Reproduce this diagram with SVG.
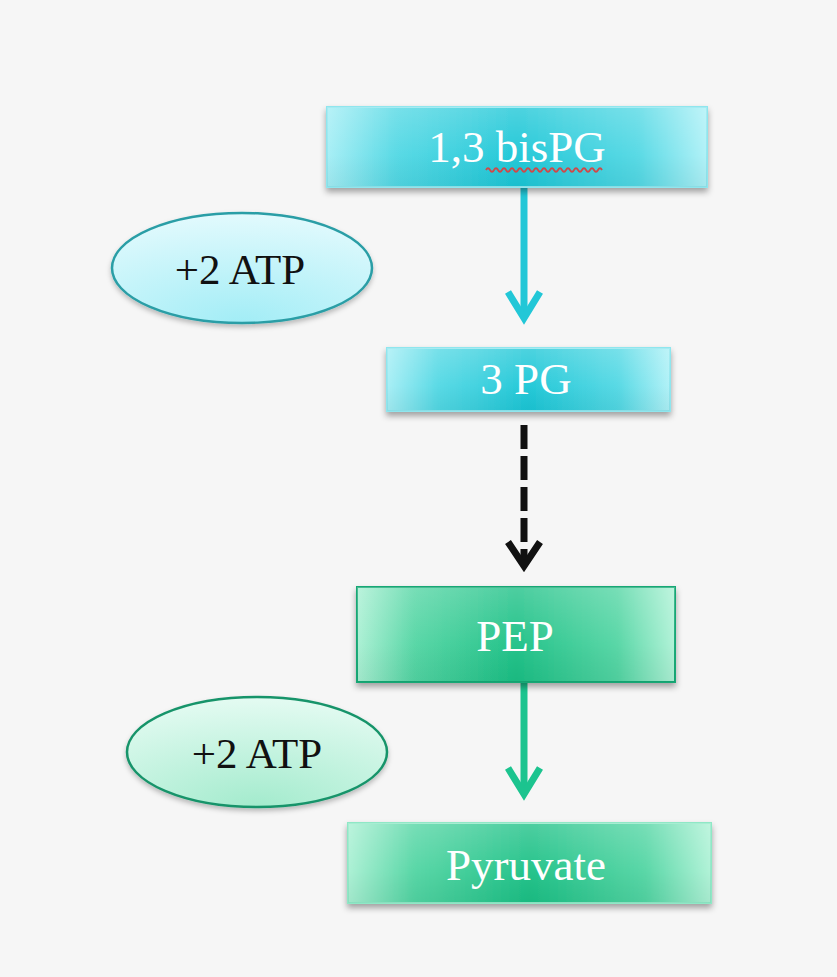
<svg xmlns="http://www.w3.org/2000/svg" width="837" height="977" viewBox="0 0 837 977">
<defs>
<linearGradient id="gc" x1="0" y1="0" x2="1" y2="0">
<stop offset="0" stop-color="#a4eef5"/>
<stop offset="0.18" stop-color="#52d8e4"/>
<stop offset="0.5" stop-color="#1bc6d6"/>
<stop offset="0.82" stop-color="#52d8e4"/>
<stop offset="1" stop-color="#aef1f7"/>
</linearGradient>
<linearGradient id="gg" x1="0" y1="0" x2="1" y2="0">
<stop offset="0" stop-color="#a9f0d3"/>
<stop offset="0.18" stop-color="#52d5a3"/>
<stop offset="0.5" stop-color="#1bc085"/>
<stop offset="0.82" stop-color="#52d5a3"/>
<stop offset="1" stop-color="#aef2d6"/>
</linearGradient>
<linearGradient id="ov" x1="0" y1="0" x2="0" y2="1">
<stop offset="0" stop-color="#ffffff" stop-opacity="0.22"/>
<stop offset="0.6" stop-color="#ffffff" stop-opacity="0.05"/>
<stop offset="1" stop-color="#000000" stop-opacity="0.04"/>
</linearGradient>
<radialGradient id="ec" cx="0.5" cy="1" r="1" fx="0.5" fy="1">
<stop offset="0" stop-color="#a2edf6"/>
<stop offset="1" stop-color="#e2fafd"/>
</radialGradient>
<radialGradient id="eg" cx="0.5" cy="1" r="1" fx="0.5" fy="1">
<stop offset="0" stop-color="#a3ebcd"/>
<stop offset="1" stop-color="#e4fbf2"/>
</radialGradient>
<filter id="sh" x="-10%" y="-20%" width="120%" height="150%">
<feDropShadow dx="0" dy="4" stdDeviation="3" flood-color="#000" flood-opacity="0.35"/>
</filter>
<filter id="sh2" x="-10%" y="-20%" width="120%" height="150%">
<feDropShadow dx="0" dy="3" stdDeviation="2.5" flood-color="#000" flood-opacity="0.25"/>
</filter>
</defs>
<style>
.bt{font-family:"Liberation Serif","DejaVu Serif",serif;font-size:45px;fill:#ffffff;text-anchor:middle}
.et{font-family:"Liberation Serif","DejaVu Serif",serif;font-size:43px;fill:#111;text-anchor:middle}
.cbox{fill:url(#gc);stroke:#8fe6ee;stroke-width:2;filter:url(#sh)}
.gbox{fill:url(#gg);stroke:#17a874;stroke-width:2;filter:url(#sh)}
.gbox2{fill:url(#gg);stroke:#8fe8c6;stroke-width:2;filter:url(#sh)}
.ovl{fill:url(#ov);stroke:none}
.ca{stroke:#22c7d7;stroke-width:7;fill:none}
.ga{stroke:#1cc48f;stroke-width:7;fill:none}
.da{stroke:#111;stroke-width:7;fill:none}
</style>
<rect width="837" height="977" fill="#f6f6f6"/>
<g id="connectors">
<path class="ca" d="M524 187 V318"/>
<path class="ca" d="M508 292 L524 318 L540 292"/>
<path class="da" d="M524 425 V565" stroke-dasharray="24 7"/>
<path class="da" d="M508 542 L524 566 L540 542"/>
<path class="ga" d="M524 683 V794"/>
<path class="ga" d="M508 768 L524 794 L540 768"/>
</g>
<g id="bisPG">
<rect class="cbox" x="327" y="107" width="380" height="80"/>
<rect class="ovl" x="327" y="107" width="380" height="80"/>
<text class="bt" x="517" y="162">1,3 bisPG</text>
<path d="M486 170 q2 -3.5 4 0 t4 0 t4 0 t4 0 t4 0 t4 0 t4 0 t4 0 t4 0 t4 0 t4 0 t4 0 t4 0 t4 0 t4 0 t4 0 t4 0 t4 0 t4 0 t4 0 t4 0 t4 0 t4 0 t4 0 t4 0 t4 0 t4 0 t4 0 t4 0" fill="none" stroke="#d04848" stroke-width="1.8"/>
</g>
<g id="atp1">
<ellipse cx="242" cy="268" rx="130" ry="55" fill="url(#ec)" stroke="#2a9ea6" stroke-width="2.5" filter="url(#sh2)"/>
<text class="et" x="240" y="284">+2 ATP</text>
</g>
<g id="PG3">
<rect class="cbox" x="387" y="348" width="283" height="63"/>
<rect class="ovl" x="387" y="348" width="283" height="63"/>
<text class="bt" x="526" y="394">3 PG</text>
</g>
<g id="PEP">
<rect class="gbox" x="357" y="587" width="318" height="95"/>
<rect class="ovl" x="357" y="587" width="318" height="95"/>
<text class="bt" x="515" y="651">PEP</text>
</g>
<g id="atp2">
<ellipse cx="257" cy="752" rx="130" ry="55" fill="url(#eg)" stroke="#19946a" stroke-width="2.5" filter="url(#sh2)"/>
<text class="et" x="257" y="768">+2 ATP</text>
</g>
<g id="pyruvate">
<rect class="gbox2" x="348" y="823" width="363" height="80"/>
<rect class="ovl" x="348" y="823" width="363" height="80"/>
<text class="bt" x="526" y="880">Pyruvate</text>
</g>
</svg>
